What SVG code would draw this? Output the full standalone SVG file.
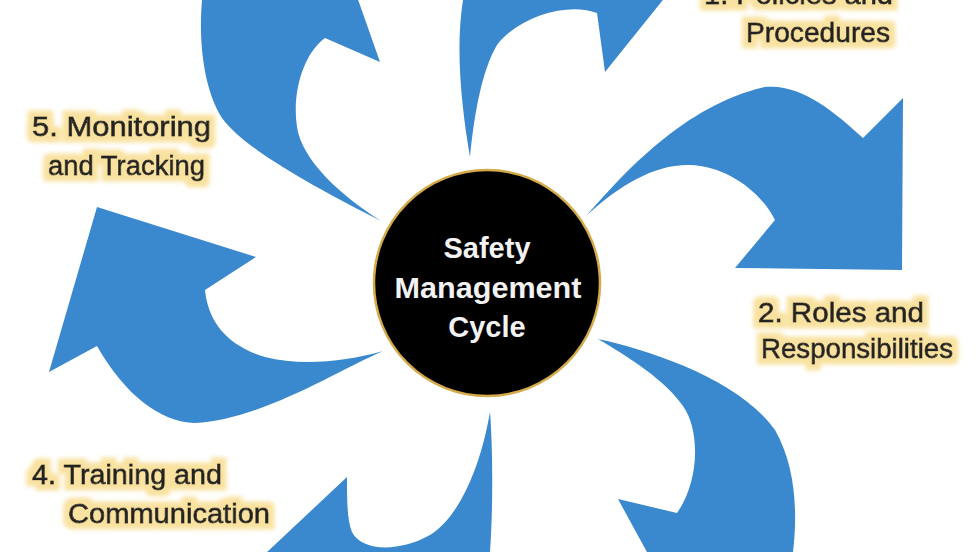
<svg xmlns="http://www.w3.org/2000/svg" width="980" height="552" viewBox="0 0 980 552">
<style>
.arrow{fill:#3a88cd}
.lbl{font-family:"Liberation Sans",Arial,sans-serif;font-size:27px;fill:#242424;stroke:#242424;stroke-width:0.8px}
.ctr{font-family:"Liberation Sans",Arial,sans-serif;font-size:29px;font-weight:bold;fill:#f2f2f2;text-anchor:middle}
</style>
<defs>
<filter id="halo" x="-15%" y="-35%" width="130%" height="170%">
<feMorphology in="SourceAlpha" operator="dilate" radius="6" result="d"/>
<feGaussianBlur in="d" stdDeviation="2.2" result="b"/>
<feFlood flood-color="#f9e2a0"/>
<feComposite in2="b" operator="in" result="g"/>
<feMerge><feMergeNode in="g"/><feMergeNode in="SourceGraphic"/></feMerge>
</filter>
</defs>
<rect width="980" height="552" fill="#ffffff"/>
<g id="connectors">
<path id="arrow-a" class="arrow" d="M381,221 C320,190 245,150 222,118 C205,92 198,45 202,0 L200,-40 L330,-80 L380,62 L325,38 C302,55 292,95 297,127 C302,160 340,195 381,221 Z"/>
<path id="arrow-b" class="arrow" d="M470,157 C462,110 455,50 463,0 L465,-40 L695,-40 L605,72 L597,13 C570,2 520,15 497,45 C482,70 474,115 470,157 Z"/>
<path id="arrow-c" class="arrow" d="M587,215 C625,172 685,105 765,87 C800,83 835,112 863,138 L903,98 L902,270 L735,268 L775,220 C760,190 725,166 690,165 C655,164 620,185 587,215 Z"/>
<path id="arrow-d" class="arrow" d="M598,339 C650,350 740,380 775,430 C795,465 798,510 793,552 L800,600 L695,640 L618,499 L677,513 C700,480 700,430 683,406 C665,380 630,358 598,339 Z"/>
<path id="arrow-e" class="arrow" d="M490,412 C493,450 493,510 490,552 L488,600 L216,600 L347,477 C347,500 347,520 352,532 C362,552 400,552 430,535 C458,518 480,470 490,412 Z"/>
<path id="arrow-f" class="arrow" d="M383,351 C335,372 260,420 195,423 C160,422 125,395 97,346 L49,372 L97,207 L256,257 L205,290 C208,320 225,345 265,357 C300,366 345,362 383,351 Z"/>
</g>
<g id="center">
<circle cx="487" cy="283" r="113" fill="#000000" stroke="#d4aa4a" stroke-width="2.5"/>
<text class="ctr" x="487" y="258">Safety</text>
<text class="ctr" x="488" y="298" textLength="187" lengthAdjust="spacingAndGlyphs">Management</text>
<text class="ctr" x="487" y="337">Cycle</text>
</g>
<g id="label-1" filter="url(#halo)">
<text class="lbl" x="704" y="4" textLength="189" lengthAdjust="spacingAndGlyphs">1. Policies and</text>
<text class="lbl" x="746" y="42" textLength="144" lengthAdjust="spacingAndGlyphs">Procedures</text>
</g>
<g id="label-2" filter="url(#halo)">
<text class="lbl" x="758" y="322" textLength="166" lengthAdjust="spacingAndGlyphs">2. Roles and</text>
<text class="lbl" x="761" y="358" textLength="192" lengthAdjust="spacingAndGlyphs">Responsibilities</text>
</g>
<g id="label-4" filter="url(#halo)">
<text class="lbl" x="32" y="484" textLength="190" lengthAdjust="spacingAndGlyphs">4. Training and</text>
<text class="lbl" x="68" y="523" textLength="202" lengthAdjust="spacingAndGlyphs">Communication</text>
</g>
<g id="label-5" filter="url(#halo)">
<text class="lbl" x="32" y="136" textLength="179" lengthAdjust="spacingAndGlyphs">5. Monitoring</text>
<text class="lbl" x="48" y="175" textLength="157" lengthAdjust="spacingAndGlyphs">and Tracking</text>
</g>
</svg>
